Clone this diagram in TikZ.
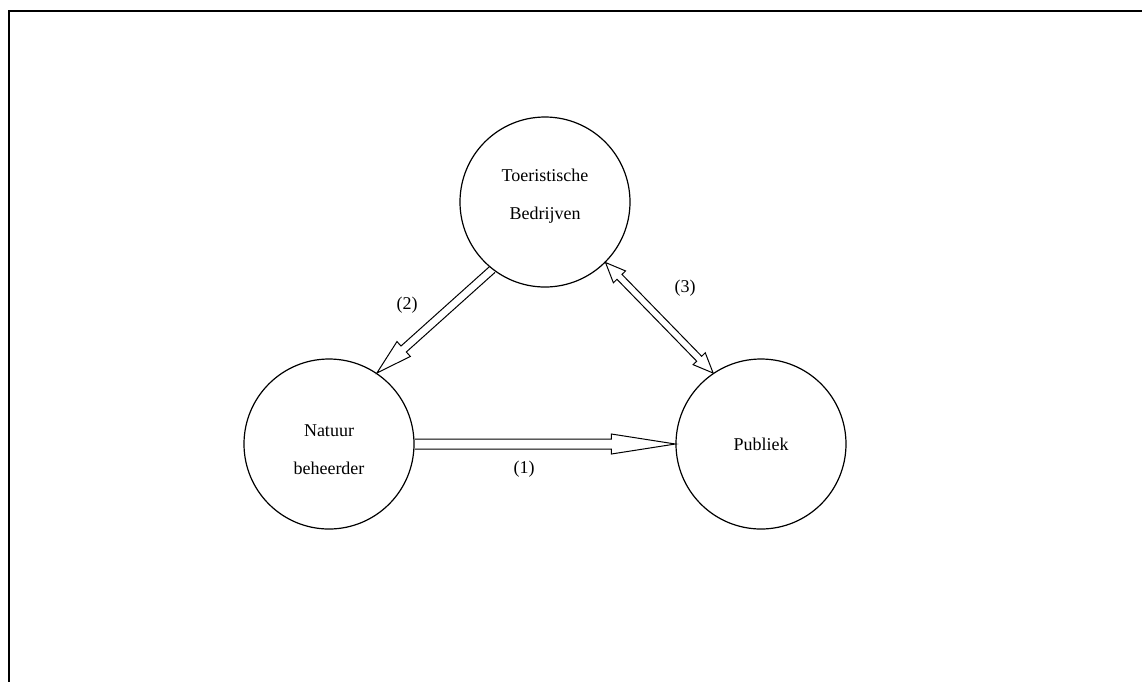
\documentclass[tikz,border=0pt]{standalone}
\usepackage{fontspec}
\setmainfont{Liberation Serif}
\usepackage{tikz}
\usetikzlibrary{calc}

% hollow block arrow: from, to, half shaft, half head, head length
\newcommand{\hollowarr}[5]{%
  \coordinate (ha) at (#1); \coordinate (hb) at (#2);
  \coordinate (hh) at ($(hb)!#5!(ha)$);
  \draw[arrline] ($(ha)!#3!90:(hb)$) -- ($(hh)!#3!-90:(ha)$) -- ($(hh)!#4!-90:(ha)$)
    -- (hb) -- ($(hh)!#4!90:(ha)$) -- ($(hh)!#3!90:(ha)$) -- ($(ha)!#3!-90:(hb)$);
}
% the same with a head at both ends
\newcommand{\hollowdarr}[5]{%
  \coordinate (ha) at (#1); \coordinate (hb) at (#2);
  \coordinate (hh) at ($(hb)!#5!(ha)$); \coordinate (hg) at ($(ha)!#5!(hb)$);
  \draw[arrline] (ha) -- ($(hg)!#4!90:(hb)$) -- ($(hg)!#3!90:(hb)$)
    -- ($(hh)!#3!-90:(ha)$) -- ($(hh)!#4!-90:(ha)$) -- (hb)
    -- ($(hh)!#4!90:(ha)$) -- ($(hh)!#3!90:(ha)$)
    -- ($(hg)!#3!-90:(hb)$) -- ($(hg)!#4!-90:(hb)$) -- cycle;
}

\begin{document}
\begin{tikzpicture}[x=0.5pt,y=-0.5pt,
  actor/.style={circle,draw,line width=0.6pt,minimum size=85pt,inner sep=0,
    align=center,font=\fontsize{9}{19}\selectfont},
  arrline/.style={draw,line width=0.5pt,line join=miter},
  num/.style={font=\fontsize{9}{11}\selectfont}]
\useasboundingbox (0,0) rectangle (1142,682);
\draw[line width=1.3pt] (1142,11) -- (9,11) -- (9,682);
\node[actor] (toe) at (545,202) {Toeristische\\Bedrijven\\[-11pt]\mbox{}};
\node[actor] (nat) at (329,444) {\mbox{}\\[-7.5pt]Natuur\\beheerder};
\node[actor] (pub) at (761,444) {Publiek};
\hollowarr{nat.east}{pub.west}{2.5pt}{5pt}{32pt}
\hollowarr{toe.232}{nat.56}{2pt}{5pt}{18pt}
\hollowdarr{toe.315}{pub.124}{1.75pt}{4.25pt}{10pt}
\node[num] (l1) at (524,469) {(1)};
\node[num] (l2) at (407,305) {(2)};
\node[num] (l3) at (685,288) {(3)};
\end{tikzpicture}
\end{document}
